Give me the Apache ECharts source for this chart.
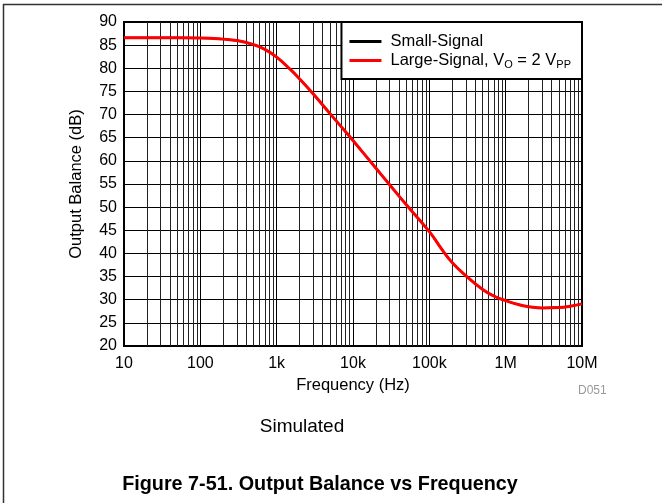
<!DOCTYPE html>
<html>
<head>
<meta charset="utf-8">
<script src="https://cdn.jsdelivr.net/npm/echarts@6/dist/echarts.min.js"></script>
<style>
html,body{margin:0;padding:0;background:#fff;}
#chart{width:662px;height:503px;}
</style>
</head>
<body>
<div id="chart"></div>
<script>
// Frequency points (Hz)
var freqs = [10, 20, 50, 100, 200, 300, 500, 700, 1000, 1500, 2000, 3000, 5000, 7000,
  10000, 20000, 30000, 50000, 100000, 150000, 200000, 300000, 500000, 700000,
  1000000, 1500000, 2000000, 3000000, 5000000, 7000000, 10000000];
// Output balance (dB)
var smallSignal = [86.6, 86.6, 86.6, 86.55, 86.3, 86.0, 85.1, 84.1, 82.4, 79.8, 77.7, 74.5, 70.2, 67.4,
  64.4, 58.4, 54.9, 50.5, 44.7, 40.6, 38.0, 35.2, 32.2, 30.8,
  29.8, 28.9, 28.5, 28.2, 28.3, 28.6, 29.1];
var largeSignal = [86.6, 86.6, 86.6, 86.55, 86.3, 86.0, 85.1, 84.1, 82.4, 79.8, 77.7, 74.5, 70.2, 67.4,
  64.4, 58.4, 54.9, 50.5, 44.7, 40.6, 38.0, 35.2, 32.2, 30.8,
  29.8, 28.9, 28.5, 28.2, 28.3, 28.6, 29.1];
// X tick labels
var xTickValues = [10, 100, 1000, 10000, 100000, 1000000, 10000000];
var xTickLabels = ['10', '100', '1k', '10k', '100k', '1M', '10M'];
var seriesNames = ['Small-Signal', 'Large-Signal, VO = 2 VPP'];

function pairs(xs, ys) { return xs.map(function (x, i) { return [x, ys[i]]; }); }

// minor log grid lines (2..9 per decade)
var minorLines = [];
for (var d = 10; d < 1e7; d *= 10) {
  for (var k = 2; k <= 9; k++) minorLines.push({ xAxis: d * k });
}

var FONT = '"Liberation Sans", Arial, sans-serif';
var chart = echarts.init(document.getElementById('chart'), null, { renderer: 'canvas' });
chart.setOption({
  animation: false,
  backgroundColor: '#fff',
  textStyle: { fontFamily: FONT, color: '#000' },
  grid: { left: 124, top: 22, width: 458, height: 324, show: true, borderColor: '#000', borderWidth: 2, backgroundColor: 'transparent' },
  legend: {
    right: 80, top: 22, z: 20,
    orient: 'vertical',
    backgroundColor: '#fff',
    borderColor: '#000', borderWidth: 2, borderRadius: 0,
    padding: [11, 11, 9, 8],
    itemGap: 2,
    itemWidth: 32, itemHeight: 3,
    icon: 'rect',
    data: seriesNames,
    textStyle: {
      fontFamily: FONT, fontSize: 16.5, color: '#000',
      padding: [0, 0, 0, 4],
      rich: {
        n: { fontSize: 16.5, fontFamily: FONT, color: '#000' },
        s: { fontSize: 11, fontFamily: FONT, color: '#000', padding: [8, 0, 0, 0] }
      }
    },
    formatter: function (name) {
      if (name === seriesNames[1]) return '{n|Large-Signal, V}{s|O}{n| = 2 V}{s|PP}';
      return name;
    }
  },
  xAxis: {
    type: 'log', logBase: 10, min: 10, max: 10000000,
    name: 'Frequency (Hz)', nameLocation: 'middle', nameGap: 29,
    nameTextStyle: { fontSize: 16.5, fontFamily: FONT, color: '#000' },
    axisLine: { show: true, lineStyle: { color: '#000', width: 2 } },
    axisTick: { show: false },
    axisLabel: {
      fontSize: 16, fontFamily: FONT, color: '#000', margin: 10,
      formatter: function (v) {
        var i = xTickValues.indexOf(Math.round(v));
        return i >= 0 ? xTickLabels[i] : '';
      }
    },
    splitLine: { show: true, lineStyle: { color: '#000', width: 1 } }
  },
  yAxis: {
    type: 'value', min: 20, max: 90, interval: 5,
    name: 'Output Balance (dB)', nameLocation: 'middle', nameGap: 39,
    nameTextStyle: { fontSize: 16.5, fontFamily: FONT, color: '#000' },
    axisLine: { show: true, lineStyle: { color: '#000', width: 2 } },
    axisTick: { show: false },
    axisLabel: { fontSize: 16, fontFamily: FONT, color: '#000', margin: 7 },
    splitLine: { show: true, lineStyle: { color: '#000', width: 1 } }
  },
  series: [
    {
      name: seriesNames[0], type: 'line', smooth: true, symbol: 'none',
      data: pairs(freqs, smallSignal),
      itemStyle: { color: '#000' },
      lineStyle: { color: '#000', width: 2 },
      markLine: {
        silent: true, symbol: 'none', animation: false, z: 1,
        label: { show: false },
        lineStyle: { color: '#222', width: 1, type: 'solid' },
        data: minorLines
      },
      z: 2
    },
    {
      name: seriesNames[1], type: 'line', smooth: true, symbol: 'none',
      data: pairs(freqs, largeSignal),
      itemStyle: { color: '#f00' },
      lineStyle: { color: '#f00', width: 3 },
      z: 3
    }
  ],
  graphic: [
    { type: 'line', shape: { x1: 3, y1: 4.5, x2: 662, y2: 4.5 }, style: { stroke: '#333', lineWidth: 1.5 } },
    { type: 'line', shape: { x1: 3.5, y1: 4, x2: 3.5, y2: 503 }, style: { stroke: '#333', lineWidth: 1.5 } },
    { type: 'text', left: 578, top: 385, style: { text: 'D051', fontSize: 12, fontFamily: FONT, fill: '#999' } },
    { type: 'text', x: 302, y: 427, style: { text: 'Simulated', fontSize: 19, fontFamily: FONT, fill: '#000', textAlign: 'center', textVerticalAlign: 'middle' } },
    { type: 'text', x: 320, y: 485, style: { text: 'Figure 7-51. Output Balance vs Frequency', fontSize: 19.8, fontWeight: 'bold', fontFamily: FONT, fill: '#000', textAlign: 'center', textVerticalAlign: 'middle' } }
  ]
});
</script>
</body>
</html>
